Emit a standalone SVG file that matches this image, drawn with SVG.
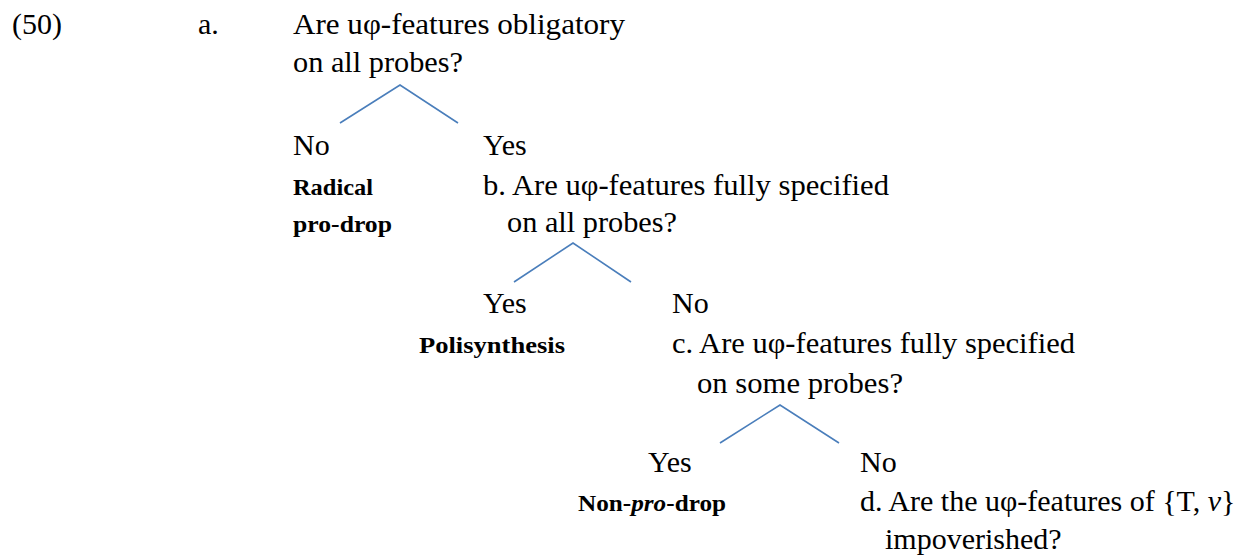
<svg xmlns="http://www.w3.org/2000/svg" width="1242" height="555" viewBox="0 0 1242 555">
<style>
text{font-family:"Liberation Serif","Times New Roman",serif;fill:#000}
.t{font-size:30px}
.b{font-size:24px;font-weight:bold}
.e{stroke:#4a7ebb;stroke-width:1.6;fill:none}
</style>
<rect width="1242" height="555" fill="#fff"/>
<g id="label">
<text class="t" x="12" y="34">(50)</text>
<text class="t" x="198" y="34">a.</text>
</g>
<g id="q-a">
<text class="t" x="293" y="34" textLength="332" lengthAdjust="spacingAndGlyphs">Are uφ-features obligatory</text>
<text class="t" x="293" y="72" textLength="170" lengthAdjust="spacingAndGlyphs">on all probes?</text>
</g>
<g id="a-no">
<text class="t" x="293" y="155">No</text>
<text class="b" x="293" y="195" textLength="80" lengthAdjust="spacingAndGlyphs">Radical</text>
<text class="b" x="293" y="232" textLength="99" lengthAdjust="spacingAndGlyphs">pro-drop</text>
</g>
<g id="a-yes">
<text class="t" x="483" y="155">Yes</text>
</g>
<g id="q-b">
<text class="t" x="483" y="195" textLength="406" lengthAdjust="spacingAndGlyphs">b. Are uφ-features fully specified</text>
<text class="t" x="507" y="232" textLength="170" lengthAdjust="spacingAndGlyphs">on all probes?</text>
</g>
<g id="b-yes">
<text class="t" x="483" y="313">Yes</text>
<text class="b" x="419" y="353" textLength="146" lengthAdjust="spacingAndGlyphs">Polisynthesis</text>
</g>
<g id="b-no">
<text class="t" x="672" y="313">No</text>
</g>
<g id="q-c">
<text class="t" x="672" y="353" textLength="403" lengthAdjust="spacingAndGlyphs">c. Are uφ-features fully specified</text>
<text class="t" x="697" y="393" textLength="206" lengthAdjust="spacingAndGlyphs">on some probes?</text>
</g>
<g id="c-yes">
<text class="t" x="648" y="472">Yes</text>
<text class="b" x="578" y="511" textLength="148" lengthAdjust="spacingAndGlyphs">Non-<tspan font-style="italic">pro</tspan>-drop</text>
</g>
<g id="c-no">
<text class="t" x="860" y="472">No</text>
</g>
<g id="q-d">
<text class="t" x="860" y="511">d. Are the uφ-features of {T, <tspan font-style="italic">v</tspan>}</text>
<text class="t" x="885" y="549">impoverished?</text>
</g>
<g id="connectors">
<path class="e" d="M340,123 L400,85 L458,123"/>
<path class="e" d="M514,282 L573,243 L631,282"/>
<path class="e" d="M720,443 L780,405 L839,443"/>
</g>
</svg>
